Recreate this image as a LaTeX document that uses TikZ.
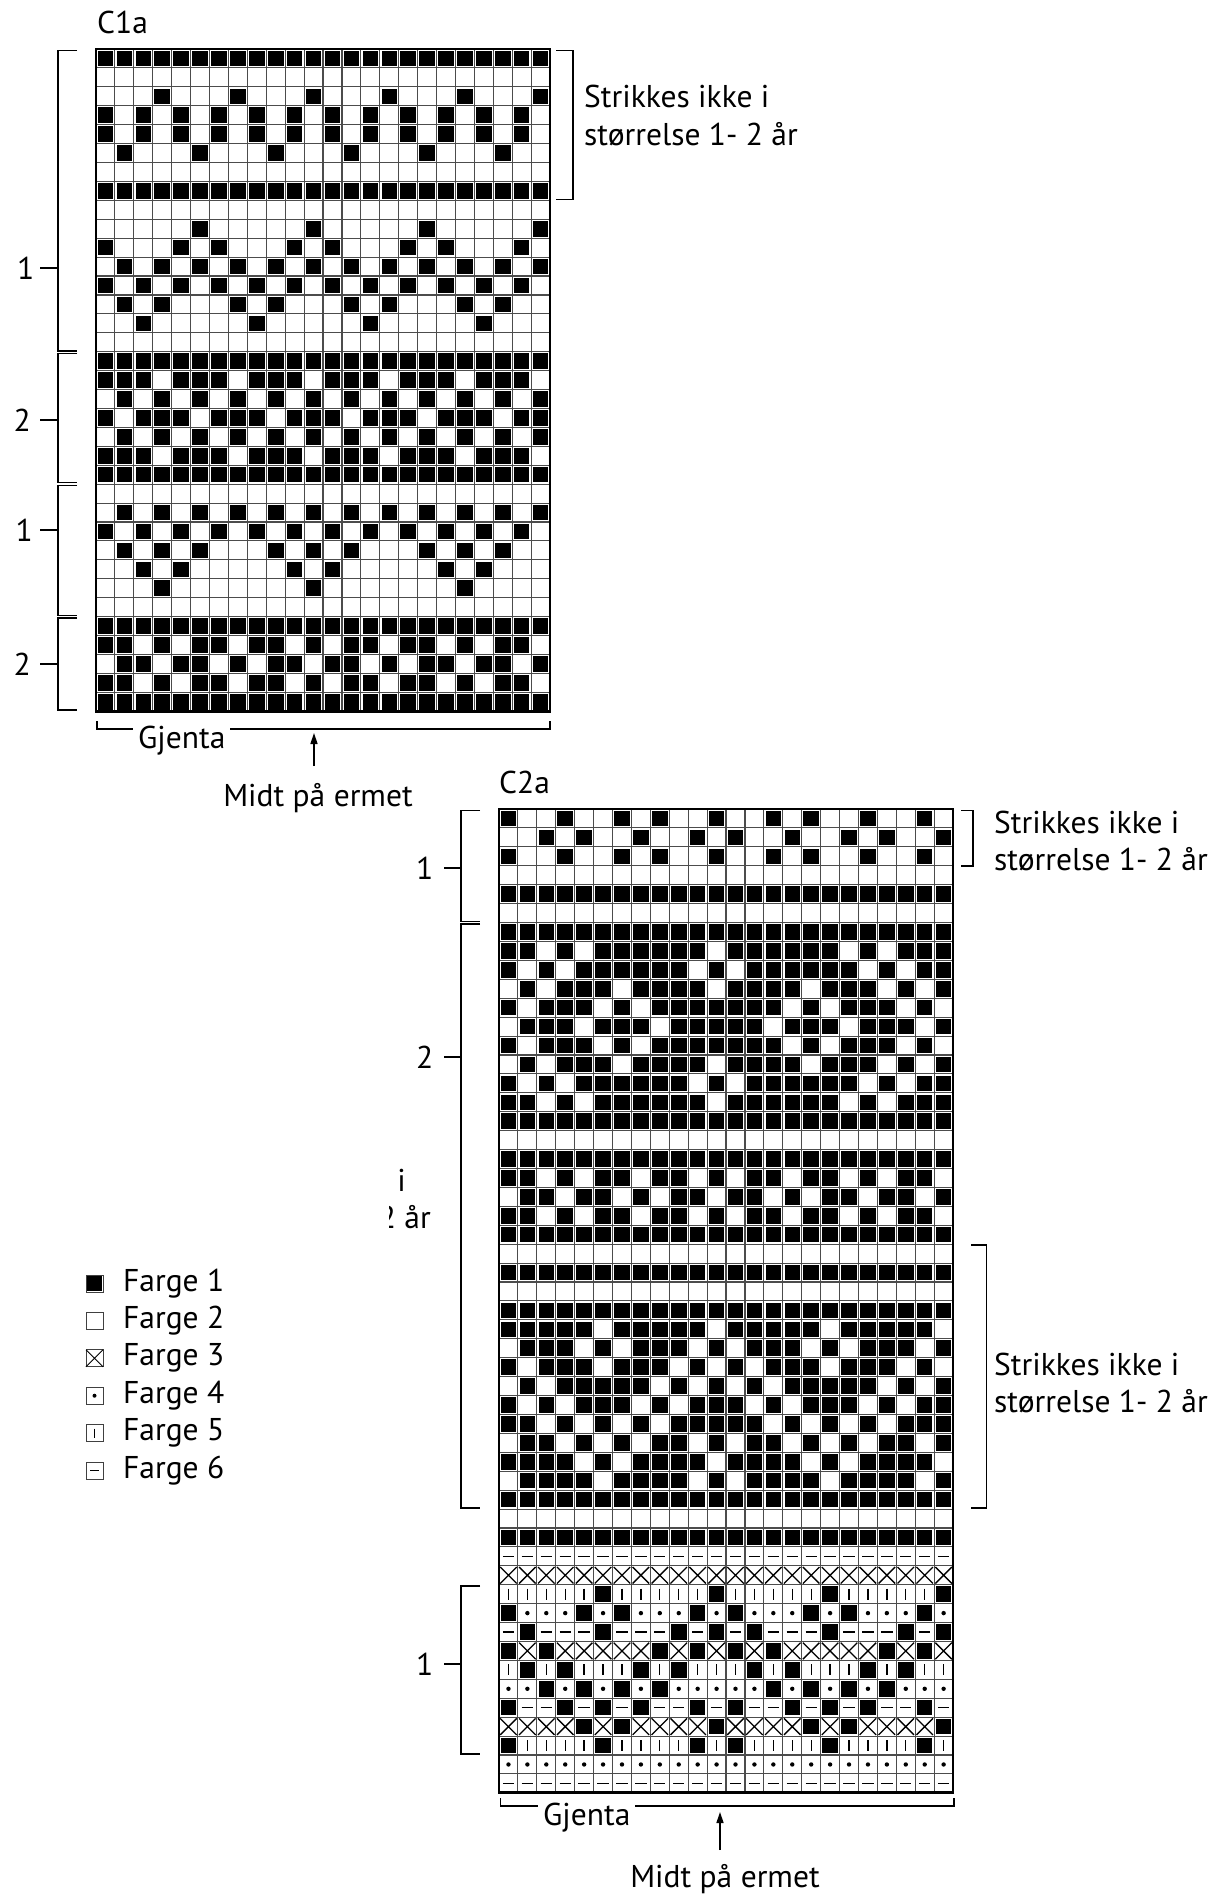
\documentclass[tikz,border=0pt]{standalone}
\usepackage{fontspec}
\setmainfont{PT Sans}
\usetikzlibrary{arrows.meta}
\newcount\cellcol
\newcount\cellrow
\def\cs{18.92}
\def\gx{0}
\def\gy{0}
\def\cellW{}
\def\cellB{\fill ({\gx+\the\cellcol*\cs+1.7},{\gy+\the\cellrow*\cs+1.7}) rectangle ++(15.52,15.52);}
\def\cellX{\draw[symb] ({\gx+\the\cellcol*\cs+1.2},{\gy+\the\cellrow*\cs+1.2}) -- ++(16.5,16.5) ({\gx+\the\cellcol*\cs+1.2},{\gy+\the\cellrow*\cs+17.7}) -- ++(16.5,-16.5);}
\def\cellD{\fill ({\gx+(\the\cellcol+0.5)*\cs},{\gy+(\the\cellrow+0.5)*\cs}) circle (2.2);}
\def\cellV{\draw[symb] ({\gx+(\the\cellcol+0.5)*\cs},{\gy+\the\cellrow*\cs+4}) -- ++(0,10.9);}
\def\cellH{\draw[symb] ({\gx+\the\cellcol*\cs+3.8},{\gy+(\the\cellrow+0.5)*\cs}) -- ++(11.3,0);}
\def\parsecells#1{\ifx#1\relax\else\csname cell#1\endcsname\global\advance\cellcol by 1\relax\expandafter\parsecells\fi}
\def\gridrow#1{\global\cellcol=0\relax\parsecells#1\relax\global\advance\cellrow by 1\relax}
\def\startchart#1#2{\def\gx{#1}\def\gy{#2}\global\cellrow=0\relax}
\def\chartgrid#1#2{%
  \foreach \i in {0,...,#1}{\draw[gridl] ({\gx+\i*\cs},{\gy}) -- ++(0,{#2*\cs});}%
  \foreach \j in {0,...,#2}{\draw[gridl] ({\gx},{\gy+\j*\cs}) -- ++({#1*\cs},0);}}
\def\chartframe#1#2{\draw[line width=2.8] (\gx,\gy) rectangle ++({#1*\cs},{#2*\cs});}
\tikzset{
  gridl/.style={line width=1.1, draw=black!70},
  symb/.style={line width=1.3},
  brk/.style={line width=1.5},
  lab/.style={font=\fontsize{31.5}{37}\selectfont, inner sep=0pt},
  legbox/.style={line width=0.9, draw=black!75},
  arr/.style={line width=1.5, -{Triangle[length=11,width=7]}}
}
\begin{document}
\begin{tikzpicture}[x=1pt,y=-1pt]
\useasboundingbox[fill=white] (0,0) rectangle (1209,1896);
% ================= C1a =================
\startchart{96}{49}
\chartgrid{24}{35}
\gridrow{BBBBBBBBBBBBBBBBBBBBBBBB}
\gridrow{WWWWWWWWWWWWWWWWWWWWWWWW}
\gridrow{WWWBWWWBWWWBWWWBWWWBWWWB}
\gridrow{BWBWBWBWBWBWBWBWBWBWBWBW}
\gridrow{BWBWBWBWBWBWBWBWBWBWBWBW}
\gridrow{WBWWWBWWWBWWWBWWWBWWWBWW}
\gridrow{WWWWWWWWWWWWWWWWWWWWWWWW}
\gridrow{BBBBBBBBBBBBBBBBBBBBBBBB}
\gridrow{WWWWWWWWWWWWWWWWWWWWWWWW}
\gridrow{WWWWWBWWWWWBWWWWWBWWWWWB}
\gridrow{BWWWBWBWWWBWBWWWBWBWWWBW}
\gridrow{WBWBWBWBWBWBWBWBWBWBWBWB}
\gridrow{BWBWBWBWBWBWBWBWBWBWBWBW}
\gridrow{WBWBWWWBWBWWWBWBWWWBWBWW}
\gridrow{WWBWWWWWBWWWWWBWWWWWBWWW}
\gridrow{WWWWWWWWWWWWWWWWWWWWWWWW}
\gridrow{BBBBBBBBBBBBBBBBBBBBBBBB}
\gridrow{BBBWBBBWBBBWBBBWBBBWBBBW}
\gridrow{WBWBWBWBWBWBWBWBWBWBWBWB}
\gridrow{BWBBBWBBBWBBBWBBBWBBBWBB}
\gridrow{WBWBWBWBWBWBWBWBWBWBWBWB}
\gridrow{BBBWBBBWBBBWBBBWBBBWBBBW}
\gridrow{BBBBBBBBBBBBBBBBBBBBBBBB}
\gridrow{WWWWWWWWWWWWWWWWWWWWWWWW}
\gridrow{WBWBWBWBWBWBWBWBWBWBWBWB}
\gridrow{BWBWBWBWBWBWBWBWBWBWBWBW}
\gridrow{WBWBWBWWWBWBWBWWWBWBWBWW}
\gridrow{WWBWBWWWWWBWBWWWWWBWBWWW}
\gridrow{WWWBWWWWWWWBWWWWWWWBWWWW}
\gridrow{WWWWWWWWWWWWWWWWWWWWWWWW}
\gridrow{BBBBBBBBBBBBBBBBBBBBBBBB}
\gridrow{BBWBWBBWBBWBWBBWBBWBWBBW}
\gridrow{WBBWBBWBWBBWBBWBWBBWBBWB}
\gridrow{BBWBWBBWBBWBWBBWBBWBWBBW}
\gridrow{BBBBBBBBBBBBBBBBBBBBBBBB}
\chartframe{24}{35}
\node[lab, anchor=base west] (c1title) at (97,33) {C1a};
% left brackets C1a
\draw[brk] (77,50.5) -- (58,50.5) -- (58,351) -- (77,351);
\draw[brk] (77,353.5) -- (58,353.5) -- (58,482.5) -- (77,482.5);
\draw[brk] (77,485.5) -- (58,485.5) -- (58,615.5) -- (77,615.5);
\draw[brk] (77,618) -- (58,618) -- (58,710) -- (77,710);
\node[lab, anchor=east] (c1l1) at (34.5,268) {1};
\node[lab, anchor=east] (c1l2) at (31,420) {2};
\node[lab, anchor=east] (c1l3) at (33,530) {1};
\node[lab, anchor=east] (c1l4) at (31,664) {2};
\draw[brk] (40,268) -- (58,268);
\draw[brk] (40,420) -- (58,420);
\draw[brk] (40,530) -- (58,530);
\draw[brk] (40,664) -- (58,664);
% right bracket C1a
\draw[brk] (556,50.5) -- (573,50.5) -- (573,199.5) -- (556,199.5);
\node[lab, anchor=base west] (c1r1) at (584,107) {Strikkes ikke i};
\node[lab, anchor=base west] (c1r2) at (584,145) {størrelse 1- 2 år};
% bottom C1a
\draw[brk] (97,721) -- (97,729) -- (550,729) -- (550,721);
\node[lab, anchor=base west, fill=white, inner xsep=5pt, inner ysep=3pt] (c1gj) at (133,748.5) {Gjenta};
\coordinate (c1tip) at (314,733);
\node[lab, anchor=base] (c1midt) at (318,806.5) {Midt på ermet};
\draw[arr] (c1tip |- 0,766) -- (c1tip);
% ================= C2a =================
\startchart{499}{809}
\chartgrid{24}{52}
\gridrow{BWWBWWBWBWWBWWBWBWWBWWBW}
\gridrow{WWBWBWWBWWBWBWWBWWBWBWWB}
\gridrow{BWWBWWBWBWWBWWBWBWWBWWBW}
\gridrow{WWWWWWWWWWWWWWWWWWWWWWWW}
\gridrow{BBBBBBBBBBBBBBBBBBBBBBBB}
\gridrow{WWWWWWWWWWWWWWWWWWWWWWWW}
\gridrow{BBBBBBBBBBBBBBBBBBBBBBBB}
\gridrow{BBWBWBBBBBBWBBBBBBWBWBBB}
\gridrow{BWBWBBBBBBWBWBBBBBBWBWBB}
\gridrow{WBWBBBWBBBBWBBBBWBBBWBWB}
\gridrow{BWBBBWBWBBBBBBBWBWBBBWBW}
\gridrow{WBBBWBBBWBBBBBWBBBWBBBWB}
\gridrow{BWBBBWBWBBBBBBBWBWBBBWBW}
\gridrow{WBWBBBWBBBBWBBBBWBBBWBWB}
\gridrow{BWBWBBBBBBWBWBBBBBBWBWBB}
\gridrow{BBWBWBBBBBBWBBBBBBWBWBBB}
\gridrow{BBBBBBBBBBBBBBBBBBBBBBBB}
\gridrow{WWWWWWWWWWWWWWWWWWWWWWWW}
\gridrow{BBBBBBBBBBBBBBBBBBBBBBBB}
\gridrow{BBWBWBBWBBWBWBBWBBWBWBBW}
\gridrow{WBBWBBWBWBBWBBWBWBBWBBWB}
\gridrow{BBWBWBBWBBWBWBBWBBWBWBBW}
\gridrow{BBBBBBBBBBBBBBBBBBBBBBBB}
\gridrow{WWWWWWWWWWWWWWWWWWWWWWWW}
\gridrow{BBBBBBBBBBBBBBBBBBBBBBBB}
\gridrow{WWWWWWWWWWWWWWWWWWWWWWWW}
\gridrow{BBBBBBBBBBBBBBBBBBBBBBBB}
\gridrow{BBBBBWBBBBBWBBBBBWBBBBBW}
\gridrow{WBBBWBWBBBWBWBBBWBWBBBWB}
\gridrow{BWBBBWBBBWBWBWBBBWBBBWBW}
\gridrow{WBWBBBBBWBWBWBWBBBBBWBWB}
\gridrow{BWBWBBBWBWBBBWBWBBBWBWBB}
\gridrow{BBWBWBWBWBBBBBWBWBWBWBBB}
\gridrow{WBBWBWBWBBWBWBBWBWBWBBWB}
\gridrow{BBBBWBWBBBBWBBBBWBWBBBBW}
\gridrow{WBBBBWBBBBWBWBBBBWBBBBWB}
\gridrow{BBBBBBBBBBBBBBBBBBBBBBBB}
\gridrow{WWWWWWWWWWWWWWWWWWWWWWWW}
\gridrow{BBBBBBBBBBBBBBBBBBBBBBBB}
\gridrow{HHHHHHHHHHHHHHHHHHHHHHHH}
\gridrow{XXXXXXXXXXXXXXXXXXXXXXXX}
\gridrow{VVVVVBVVVVVBVVVVVBVVVVVB}
\gridrow{BDDDBDBDDDBDBDDDBDBDDDBD}
\gridrow{HBHHHBHHHBHBHBHHHBHHHBHB}
\gridrow{BXBXXXXXBXBXBXBXXXXXBXBX}
\gridrow{VBVBVVVBVBVVVBVBVVVBVBVV}
\gridrow{DDBDBDBDBDDDDDBDBDBDBDDD}
\gridrow{BHHBHBHBHHBHBHHBHBHBHHBH}
\gridrow{XXXXBXBXXXXBXXXXBXBXXXXB}
\gridrow{BVVVVBVVVVBVBVVVVBVVVVBV}
\gridrow{DDDDDDDDDDDDDDDDDDDDDDDD}
\gridrow{HHHHHHHHHHHHHHHHHHHHHHHH}
\chartframe{24}{52}
\node[lab, anchor=base west] (c2title) at (499,793) {C2a};
% left brackets C2a
\draw[brk] (480,810.5) -- (461,810.5) -- (461,921.5) -- (480,921.5);
\draw[brk] (480,924) -- (461,924) -- (461,1508) -- (480,1508);
\draw[brk] (480,1586) -- (461,1586) -- (461,1754) -- (480,1754);
\node[lab, anchor=east] (c2l1) at (433.5,868) {1};
\node[lab, anchor=east] (c2l2) at (433.5,1057) {2};
\node[lab, anchor=east] (c2l3) at (433.5,1664) {1};
\draw[brk] (444,868) -- (461,868);
\draw[brk] (444,1057) -- (461,1057);
\draw[brk] (444,1664) -- (461,1664);
% clipped fragment
\begin{scope}
\clip (399,1150) rectangle (458,1203);
\node[lab, anchor=base east] (frag1) at (406,1191) {Strikkes ikke i};
\end{scope}
\begin{scope}
\clip (389.5,1203) rectangle (458,1245);
\node[lab, anchor=base east] (frag2) at (431,1228.5) {størrelse 1- 2 år};
\end{scope}
% right brackets C2a
\draw[brk] (961,810.5) -- (973,810.5) -- (973,866) -- (961,866);
\node[lab, anchor=base west] (c2r1) at (994,833) {Strikkes ikke i};
\node[lab, anchor=base west] (c2r2) at (994,870) {størrelse 1- 2 år};
\draw[brk] (971,1245) -- (986.5,1245) -- (986.5,1508) -- (971,1508);
\node[lab, anchor=base west] (c2r3) at (994,1375) {Strikkes ikke i};
\node[lab, anchor=base west] (c2r4) at (994,1412) {størrelse 1- 2 år};
% bottom C2a
\draw[brk] (500.5,1798) -- (500.5,1806) -- (954,1806) -- (954,1798);
\node[lab, anchor=base west, fill=white, inner xsep=5pt, inner ysep=3pt] (c2gj) at (538,1825) {Gjenta};
\coordinate (c2tip) at (720,1812);
\node[lab, anchor=base] (c2midt) at (725,1887.5) {Midt på ermet};
\draw[arr] (c2tip |- 0,1850) -- (c2tip);
% ================= legend =================
\foreach \k/\t in {0/1,1/2,2/3,3/4,4/5,5/6}{
  \node[lab, anchor=base west] (leg\t) at (123,{1291+\k*37.4}) {Farge \t};
}
\draw[legbox] (86,1275) rectangle (103,1292);
\fill (87,1276) rectangle (102,1291);
\draw[legbox] (86,1312.4) rectangle (103,1329.4);
\draw[legbox] (86,1349.8) rectangle (103,1366.8);
\draw[line width=0.9] (86,1349.8) -- (103,1366.8) (86,1366.8) -- (103,1349.8);
\draw[legbox] (86,1387.2) rectangle (103,1404.2);
\fill (94.5,1395.7) circle (2);
\draw[legbox] (86,1424.6) rectangle (103,1441.6);
\draw[line width=1] (94.5,1428.6) -- (94.5,1437.6);
\draw[legbox] (86,1462) rectangle (103,1479);
\draw[line width=1] (90,1470.5) -- (99,1470.5);
\end{tikzpicture}
\end{document}
